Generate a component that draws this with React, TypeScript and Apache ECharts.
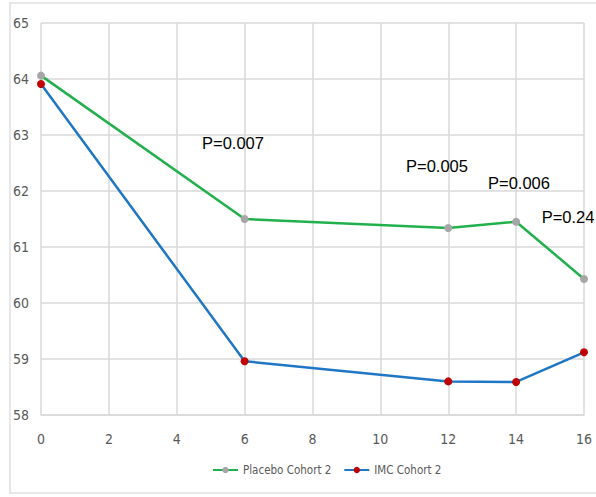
import React, { useEffect, useRef } from "react";
import * as echarts from "echarts";

const weeks = [0, 6, 12, 14, 16];
const placeboValues = [64.06, 61.5, 61.34, 61.45, 60.43];
const imcValues = [63.91, 58.96, 58.6, 58.59, 59.12];
const pLabels = ["P=0.007", "P=0.005", "P=0.006", "P=0.24"];
const pLabelPos: [number, number][] = [
  [233, 143],
  [437, 166],
  [519, 183],
  [568, 217],
];

const axisFont = "'Liberation Sans Narrow', 'DejaVu Sans Condensed', sans-serif";

export default function App() {
  const ref = useRef<HTMLDivElement>(null);

  useEffect(() => {
    document.body.style.margin = "0";
    const chart = echarts.init(ref.current!, null, { renderer: "svg" });
    chart.setOption({
      animation: false,
      backgroundColor: "#ffffff",
      grid: { left: 41, right: 12, top: 23, bottom: 82, containLabel: false },
      xAxis: {
        type: "value",
        min: 0,
        max: 16,
        interval: 2,
        axisLine: { show: true, lineStyle: { color: "#d9d9d9", width: 1.5 } },
        axisTick: { show: false },
        splitLine: { show: true, lineStyle: { color: "#d9d9d9", width: 1.5 } },
        axisLabel: {
          color: "#595959",
          fontFamily: axisFont,
          fontSize: 14,
          margin: 17,
        },
      },
      yAxis: {
        type: "value",
        min: 58,
        max: 65,
        interval: 1,
        axisLine: { show: false },
        axisTick: { show: false },
        splitLine: { show: true, lineStyle: { color: "#d9d9d9", width: 1.5 } },
        axisLabel: {
          color: "#595959",
          fontFamily: axisFont,
          fontSize: 14,
          margin: 12,
        },
      },
      legend: {
        bottom: 16,
        left: 207,
        itemWidth: 25,
        itemHeight: 8,
        itemGap: 12,
        textStyle: { color: "#595959", fontFamily: axisFont, fontSize: 11.5 },
        data: ["Placebo Cohort 2", "IMC Cohort 2"],
      },
      series: [
        {
          name: "Placebo Cohort 2",
          type: "line",
          data: weeks.map((w, i) => [w, placeboValues[i]]),
          symbol: "circle",
          symbolSize: 8,
          lineStyle: { color: "#21b04b", width: 2.5 },
          itemStyle: { color: "#a6a6a6", borderWidth: 0 },
          z: 3,
        },
        {
          name: "IMC Cohort 2",
          type: "line",
          data: weeks.map((w, i) => [w, imcValues[i]]),
          symbol: "circle",
          symbolSize: 8,
          lineStyle: { color: "#1f77c4", width: 2.5 },
          itemStyle: { color: "#c00000", borderWidth: 0 },
          z: 4,
        },
      ],
      graphic: [
        {
          type: "rect",
          silent: true,
          shape: { x: 10, y: 3, width: 600, height: 490 },
          style: { fill: "none", stroke: "#e0e0e0", lineWidth: 1.5 },
          z: -1,
        },
        ...pLabels.map((t, i) => ({
          type: "text",
          x: pLabelPos[i][0],
          y: pLabelPos[i][1],
          style: {
            text: t,
            fill: "#000000",
            font: "16.5px 'Liberation Sans', Arial, sans-serif",
            textAlign: "center",
            textVerticalAlign: "middle",
          },
          z: 10,
        })),
      ],
    });
    return () => chart.dispose();
  }, []);

  return <div ref={ref} style={{ width: 596, height: 497 }} />;
}
